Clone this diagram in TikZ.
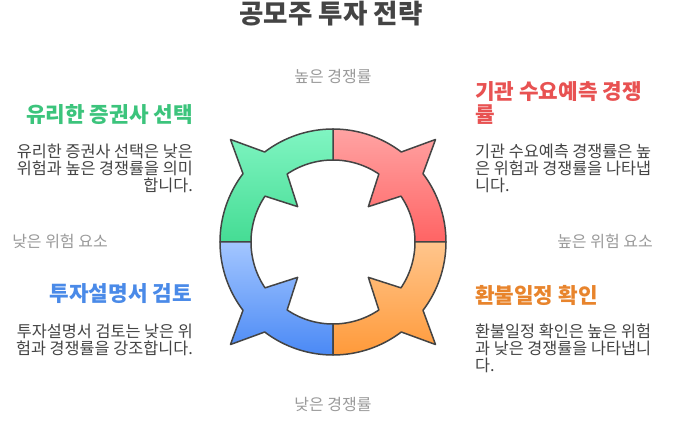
\documentclass[tikz,border=0pt]{standalone}
\usepackage{fontspec}
\setmainfont{Noto Sans CJK KR}
\definecolor{edge}{HTML}{444444}
\definecolor{gtop}{HTML}{80F5C2}
\definecolor{gbot}{HTML}{45DC94}
\definecolor{rtop}{HTML}{FFA3A3}
\definecolor{rbot}{HTML}{FF6464}
\definecolor{otop}{HTML}{FFC58C}
\definecolor{obot}{HTML}{FF9A3A}
\definecolor{btop}{HTML}{A3C6FF}
\definecolor{bbot}{HTML}{4A89F5}
\definecolor{hgreen}{HTML}{3CC47C}
\definecolor{hred}{HTML}{E85252}
\definecolor{hblue}{HTML}{4A8AE8}
\definecolor{horange}{HTML}{E8842C}
\definecolor{bodyc}{HTML}{444444}
\definecolor{labelc}{HTML}{9A9A9A}
\begin{document}
\begin{tikzpicture}[x=1pt,y=1pt,
  quad/.style={draw=edge, line width=1.5pt, line join=round},
  titletext/.style={inner sep=0pt, text=bodyc, font=\fontsize{26.5}{30}\selectfont\bfseries},
  headtext/.style={inner sep=0pt, font=\fontsize{21.3}{24}\selectfont\bfseries},
  bodytext/.style={inner sep=0pt, text=bodyc, font=\fontsize{16.3}{18}\selectfont},
  labeltext/.style={inner sep=0pt, text=labelc, font=\fontsize{16}{18}\selectfont}]
\useasboundingbox (0,0) rectangle (678,426);
\fill[white] (0,0) rectangle (678,426);
\begin{scope}[shift={(333,184)}]
\foreach \a/\ct/\cb in {0/rtop/rbot, 90/gtop/gbot, 180/btop/bbot, 270/otop/obot}{
  \shadedraw[quad, top color=\ct, bottom color=\cb]
    (\a:113pt) arc[start angle=\a, delta angle=37.2, radius=113pt]
    -- ({\a+45}:145pt) -- ({\a+52.8}:113pt)
    arc[start angle={\a+52.8}, delta angle=37.2, radius=113pt]
    -- ({\a+90}:82pt) arc[start angle={\a+90}, delta angle=-34, radius=82pt]
    -- ({\a+45}:50pt) -- ({\a+34}:82pt)
    arc[start angle={\a+34}, delta angle=-34, radius=82pt] -- cycle;
}
\end{scope}
\node[titletext] (title) at (331,412) {공모주 투자 전략};
\node[labeltext] (top) at (333,349) {높은 경쟁률};
\node[labeltext] (bottom) at (333,22) {낮은 경쟁률};
\node[labeltext] (left) at (60,185) {낮은 위험 요소};
\node[labeltext] (right) at (605,185) {높은 위험 요소};
% top-left
\node[headtext, text=hgreen, anchor=east] (tlh) at (193,311) {유리한 증권사 선택};
\node[bodytext, anchor=east] (tl1) at (193,275) {유리한 증권사 선택은 낮은};
\node[bodytext, anchor=east] (tl2) at (193,258) {위험과 높은 경쟁률을 의미};
\node[bodytext, anchor=east] (tl3) at (193,241) {합니다.};
% top-right
\node[headtext, text=hred, anchor=west] (trh1) at (475,334) {기관 수요예측 경쟁};
\node[headtext, text=hred, anchor=west] (trh2) at (475,311) {률};
\node[bodytext, anchor=west] (tr1) at (475,275) {기관 수요예측 경쟁률은 높};
\node[bodytext, anchor=west] (tr2) at (475,258) {은 위험과 경쟁률을 나타냅};
\node[bodytext, anchor=west] (tr3) at (475,241) {니다.};
% bottom-left
\node[headtext, text=hblue, anchor=east] (blh) at (192,132) {투자설명서 검토};
\node[bodytext, anchor=east] (bl1) at (193,95) {투자설명서 검토는 낮은 위};
\node[bodytext, anchor=east] (bl2) at (193,78) {험과 경쟁률을 강조합니다.};
% bottom-right
\node[headtext, text=horange, anchor=west] (brh) at (475,131) {환불일정 확인};
\node[bodytext, anchor=west] (br1) at (475,95) {환불일정 확인은 높은 위험};
\node[bodytext, anchor=west] (br2) at (475,78) {과 낮은 경쟁률을 나타냅니};
\node[bodytext, anchor=west] (br3) at (475,61) {다.};
\end{tikzpicture}
\end{document}
